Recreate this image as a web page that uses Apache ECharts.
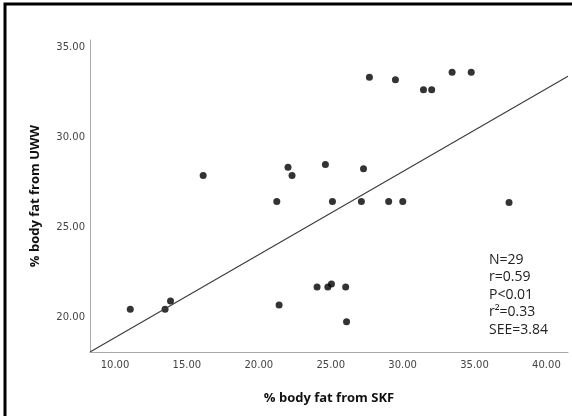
<!DOCTYPE html>
<html>
<head>
<meta charset="utf-8">
<script src="https://cdn.jsdelivr.net/npm/echarts@6/dist/echarts.min.js"></script>
<style>
  html, body { margin: 0; padding: 0; background: #fff; }
  #chart { width: 572px; height: 416px; }
</style>
</head>
<body>
<div id="chart"></div>
<script>
// % body fat from SKF (x) and from UWW (y)
const skf = [27.69, 29.50, 31.45, 32.02, 33.44, 34.77,
  16.13, 22.03, 22.31, 24.63, 27.28, 21.25, 25.12, 27.13, 29.03, 30.01, 37.40,
  11.06, 13.48, 13.86, 21.41, 24.05, 24.80, 25.05, 26.04, 26.10]
const uww = [33.33, 33.19, 32.63, 32.63, 33.61, 33.61,
  27.87, 28.33, 27.87, 28.48, 28.24, 26.43, 26.43, 26.43, 26.43, 26.43, 26.37,
  20.44, 20.44, 20.89, 20.67, 21.67, 21.67, 21.84, 21.67, 19.74]

// fitted line ends (as drawn)
const fitX = [8.26, 41.5]
const fitY = [18.06, 33.38]

const xTicks = [10, 15, 20, 25, 30, 35, 40]
const yTicks = [20, 25, 30, 35]
const statsText = ['N=29', 'r=0.59', 'P<0.01', 'r\u00b2=0.33', 'SEE=3.84']

const chart = echarts.init(document.getElementById('chart'))

const points = skf.map((x, i) => [x, uww[i]])
const fitLine = fitX.map((x, i) => [x, fitY[i]])

const axisLabelStyle = {
  color: '#444',
  fontFamily: 'DejaVu Sans',
  fontSize: 10,
  formatter: (v) => Number(v).toFixed(2),
}

const titleStyle = { fontFamily: 'Open Sans', fontWeight: 'bold', fontSize: 13, color: '#111' }

chart.setOption({
  animation: false,
  backgroundColor: '#fff',
  grid: { left: 90, right: 4, top: 40, bottom: 64 },
  xAxis: {
    type: 'value',
    min: 8.26,
    max: 41.5,
    name: '% body fat from SKF',
    nameLocation: 'middle',
    nameGap: 40,
    nameTextStyle: titleStyle,
    axisLine: { show: true, lineStyle: { color: '#aaa', width: 1 } },
    axisTick: { show: false },
    splitLine: { show: false },
    axisLabel: { ...axisLabelStyle, margin: 8, customValues: xTicks },
  },
  yAxis: {
    type: 'value',
    min: 18.06,
    max: 35.4,
    name: '% body fat from UWW',
    nameLocation: 'middle',
    nameGap: 48,
    nameTextStyle: titleStyle,
    axisLine: { show: true, lineStyle: { color: '#aaa', width: 1 } },
    axisTick: { show: false },
    splitLine: { show: false },
    axisLabel: { ...axisLabelStyle, margin: 5, customValues: yTicks },
  },
  series: [
    {
      type: 'line',
      data: fitLine,
      symbol: 'none',
      lineStyle: { color: '#3a3a3a', width: 1.1 },
      silent: true,
    },
    {
      type: 'scatter',
      data: points,
      symbolSize: 7,
      itemStyle: { color: '#000' },
    },
  ],
  graphic: [
    {
      type: 'rect',
      shape: { x: 5, y: 4, width: 620, height: 500 },
      style: { fill: 'none', stroke: '#000', lineWidth: 3 },
      silent: true,
    },
    ...statsText.map((t, i) => ({
      type: 'text',
      left: 489,
      top: 253 + i * 17.5,
      style: { text: t, fontFamily: 'Open Sans', fontSize: 14, fill: '#222' },
    })),
  ],
})
</script>
</body>
</html>
